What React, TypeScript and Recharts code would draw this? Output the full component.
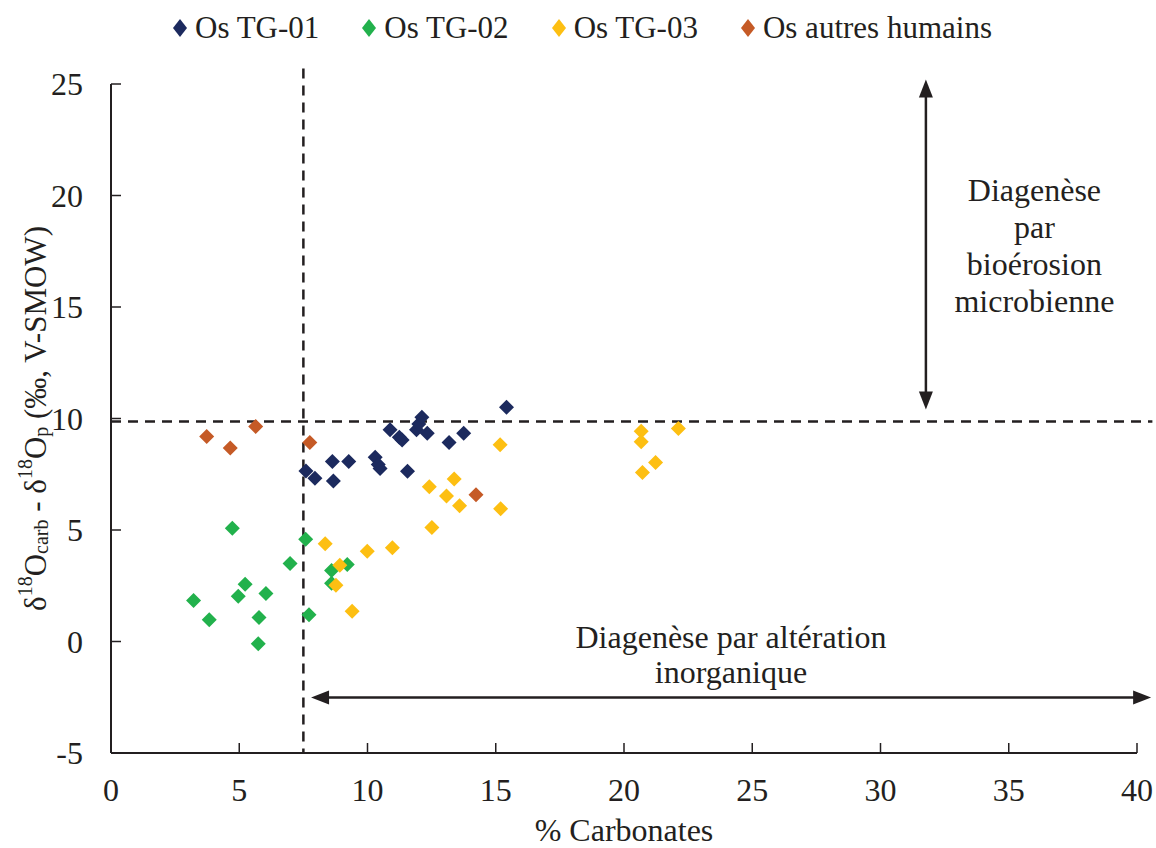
import React from 'react';
import { ScatterChart, Scatter, XAxis, YAxis, ReferenceLine, ReferenceDot, Legend } from 'recharts';

const tg01 = [
  { x: 7.6, y: 7.65 }, { x: 7.95, y: 7.32 }, { x: 8.63, y: 8.07 }, { x: 8.67, y: 7.2 },
  { x: 9.27, y: 8.07 }, { x: 10.3, y: 8.26 }, { x: 10.42, y: 7.94 }, { x: 10.49, y: 7.76 },
  { x: 10.88, y: 9.49 }, { x: 11.24, y: 9.16 }, { x: 11.35, y: 9.04 }, { x: 11.56, y: 7.64 },
  { x: 11.91, y: 9.49 }, { x: 12.0, y: 9.75 }, { x: 12.12, y: 10.06 }, { x: 12.33, y: 9.34 },
  { x: 13.18, y: 8.92 }, { x: 13.75, y: 9.34 }, { x: 15.42, y: 10.5 },
];
const tg02 = [
  { x: 3.22, y: 1.84 }, { x: 3.83, y: 0.97 }, { x: 4.73, y: 5.08 }, { x: 4.96, y: 2.03 },
  { x: 5.23, y: 2.57 }, { x: 5.74, y: -0.1 }, { x: 5.77, y: 1.08 }, { x: 6.04, y: 2.15 },
  { x: 6.98, y: 3.5 }, { x: 7.59, y: 4.59 }, { x: 7.72, y: 1.2 }, { x: 8.6, y: 3.18 },
  { x: 8.6, y: 2.61 }, { x: 9.21, y: 3.45 },
];
const tg03 = [
  { x: 8.35, y: 4.38 }, { x: 8.77, y: 2.52 }, { x: 8.92, y: 3.42 }, { x: 9.4, y: 1.36 },
  { x: 9.99, y: 4.05 }, { x: 10.97, y: 4.2 }, { x: 12.41, y: 6.94 }, { x: 12.51, y: 5.11 },
  { x: 13.08, y: 6.52 }, { x: 13.38, y: 7.29 }, { x: 13.59, y: 6.09 }, { x: 15.17, y: 8.82 },
  { x: 15.19, y: 5.95 }, { x: 20.67, y: 9.43 }, { x: 20.67, y: 8.96 }, { x: 20.72, y: 7.58 },
  { x: 21.23, y: 8.03 }, { x: 22.12, y: 9.55 },
];
const autres = [
  { x: 3.73, y: 9.19 }, { x: 4.65, y: 8.68 }, { x: 5.64, y: 9.64 }, { x: 7.75, y: 8.92 },
  { x: 14.23, y: 6.58 },
];

const seriesNames = ['Os TG-01', 'Os TG-02', 'Os TG-03', 'Os autres humains'];
const seriesColors = ['#1c2a5e', '#22b14c', '#fdbf12', '#c55a26'];
const xTicks = [0, 5, 10, 15, 20, 25, 30, 35, 40];
const yTicks = [-5, 0, 5, 10, 15, 20, 25];

const thresholdX = 7.5;
const thresholdY = 9.87;
const bioArrow = [{ x: 31.77, y: 25.2 }, { x: 31.77, y: 10.4 }];
const inorgArrow = [{ x: 7.8, y: -2.51 }, { x: 40.55, y: -2.51 }];
const bioText = ['Diagenèse', 'par', 'bioérosion', 'microbienne'];
const bioTextPos = { x: 36.0, y: 17.76 };
const inorgText = ['Diagenèse par altération', 'inorganique'];
const inorgTextPos = { x: 24.17, y: -0.6 };

const FONT = '"Liberation Serif", "Times New Roman", serif';
const TEXT = '#231f20';
const FS = 32;

const diamond = (color: string) => (props: any) => {
  const { cx, cy } = props;
  const r = 7.5;
  return <polygon points={`${cx},${cy - r} ${cx + r},${cy} ${cx},${cy + r} ${cx - r},${cy}`} fill={color} />;
};

const arrowShape = (props: any) => {
  const { x1, y1, x2, y2 } = props;
  const dx = x2 - x1, dy = y2 - y1;
  const len = Math.sqrt(dx * dx + dy * dy) || 1;
  const ux = dx / len, uy = dy / len;
  const px = -uy, py = ux;
  const L = 18, W = 7;
  const head = (tx: number, ty: number, dirx: number, diry: number) => {
    const bx = tx - dirx * L, by = ty - diry * L;
    return `${tx},${ty} ${bx + px * W},${by + py * W} ${bx - px * W},${by - py * W}`;
  };
  return (
    <g>
      <line x1={x1 + ux * 10} y1={y1 + uy * 10} x2={x2 - ux * 10} y2={y2 - uy * 10} stroke="#231f20" strokeWidth={2.5} />
      <polygon points={head(x2, y2, ux, uy)} fill="#231f20" />
      <polygon points={head(x1, y1, -ux, -uy)} fill="#231f20" />
    </g>
  );
};

const multiText = (lines: string[], spacing: number) => (props: any) => {
  const { cx, cy } = props;
  const start = cy - ((lines.length - 1) * spacing) / 2;
  return (
    <text textAnchor="middle" fontFamily={FONT} fontSize={FS} fill={TEXT}>
      {lines.map((l, i) => (
        <tspan key={i} x={cx} y={start + i * spacing} dominantBaseline="central">{l}</tspan>
      ))}
    </text>
  );
};

const YLabel = (props: any) => {
  const vb = props.viewBox || {};
  const cx = 35;
  const cy = vb.y + vb.height / 2;
  const sm = 20;
  return (
    <text transform={`rotate(-90, ${cx}, ${cy})`} x={cx} y={cy} textAnchor="middle" dominantBaseline="central"
      fontFamily={FONT} fontSize={31} fill={TEXT}>
      <tspan>δ</tspan>
      <tspan fontSize={sm} dy={-10}>18</tspan>
      <tspan dy={10}>O</tspan>
      <tspan fontSize={sm} dy={6}>carb</tspan>
      <tspan dy={-6}> - δ</tspan>
      <tspan fontSize={sm} dy={-10}>18</tspan>
      <tspan dy={10}>O</tspan>
      <tspan fontSize={sm} dy={6}>p</tspan>
      <tspan dy={-6}> (‰, V-SMOW)</tspan>
    </text>
  );
};

const XLabel = (props: any) => {
  const vb = props.viewBox || {};
  return (
    <text x={vb.x + vb.width / 2} y={830} textAnchor="middle" dominantBaseline="central"
      fontFamily={FONT} fontSize={FS} fill={TEXT}>% Carbonates</text>
  );
};

const LegendContent = () => (
  <div style={{ display: 'flex', justifyContent: 'center', alignItems: 'center', gap: 42, fontFamily: FONT, fontSize: 31, color: TEXT, lineHeight: '40px' }}>
    {seriesNames.map((n, i) => (
      <div key={n} style={{ display: 'flex', alignItems: 'center' }}>
        <svg width={16} height={20} style={{ marginRight: 7 }}>
          <polygon points="8,1 15,10 8,19 1,10" fill={seriesColors[i]} />
        </svg>
        <span>{n}</span>
      </div>
    ))}
  </div>
);

const tickStyle = { fontFamily: FONT, fontSize: FS, fill: TEXT };

export default function App() {
  const seriesData = [tg01, tg02, tg03, autres];
  return (
    <>
      <style>{'html, body { margin: 0; padding: 0; overflow: hidden; }'}</style>
      <ScatterChart width={1156} height={848} margin={{ top: 84, right: 19, left: 0, bottom: 0 }}>
        <XAxis type="number" dataKey="x" domain={[0, 40]} ticks={xTicks} height={95}
          axisLine={{ stroke: '#231f20', strokeWidth: 2 }} tickLine={{ stroke: '#231f20', strokeWidth: 1.5 }}
          tickSize={-10} tickMargin={35} tick={tickStyle} interval={0} label={<XLabel />} />
        <YAxis type="number" dataKey="y" domain={[-5, 25]} ticks={yTicks} width={111}
          axisLine={{ stroke: '#231f20', strokeWidth: 2 }} tickLine={{ stroke: '#231f20', strokeWidth: 1.5 }}
          tickSize={-10} tickMargin={38} tick={tickStyle} interval={0} label={<YLabel />} />
        <Legend verticalAlign="middle" align="center" layout="horizontal" content={<LegendContent />}
          wrapperStyle={{ top: 8, left: 8, width: 1148 }} />
        {seriesData.map((d, i) => (
          <Scatter key={seriesNames[i]} name={seriesNames[i]} data={d} fill={seriesColors[i]}
            shape={diamond(seriesColors[i])} isAnimationActive={false} />
        ))}
        <ReferenceLine segment={[{ x: thresholdX, y: 25.7 }, { x: thresholdX, y: -5 }]} ifOverflow="visible"
          stroke="#231f20" strokeWidth={2.5} strokeDasharray="10 7" />
        <ReferenceLine segment={[{ x: 0, y: thresholdY }, { x: 40.6, y: thresholdY }]} ifOverflow="visible"
          stroke="#231f20" strokeWidth={2.5} strokeDasharray="10 7" />
        <ReferenceLine segment={bioArrow} ifOverflow="visible" shape={arrowShape} />
        <ReferenceLine segment={inorgArrow} ifOverflow="visible" shape={arrowShape} />
        <ReferenceDot x={bioTextPos.x} y={bioTextPos.y} r={0} shape={multiText(bioText, 37)} />
        <ReferenceDot x={inorgTextPos.x} y={inorgTextPos.y} r={0} shape={multiText(inorgText, 35)} />
      </ScatterChart>
    </>
  );
}
